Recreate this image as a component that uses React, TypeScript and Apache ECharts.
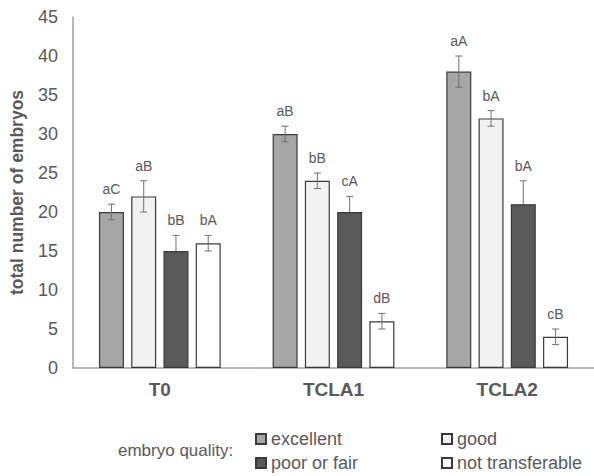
import React, { useEffect, useRef } from "react";
import * as echarts from "echarts";

const categories = ["T0", "TCLA1", "TCLA2"];
const seriesNames = ["excellent", "good", "poor or fair", "not transferable"];
const excellent = [20, 30, 38];
const good = [22, 24, 32];
const poorOrFair = [15, 20, 21];
const notTransferable = [16, 6, 4];
const excellentErr = [1, 1, 2];
const goodErr = [2, 1, 1];
const poorErr = [2, 2, 3];
const notTransferableErr = [1, 1, 1];
const excellentLetters = ["aC", "aB", "aA"];
const goodLetters = ["aB", "bB", "bA"];
const poorLetters = ["bB", "cA", "bA"];
const notTransferableLetters = ["bA", "dB", "cB"];
const yTicks = { min: 0, max: 45, interval: 5 };

const fills = ["#a6a6a6", "#f2f2f2", "#595959", "#ffffff"];
const TEXT = "#595959";
const FONT = "Liberation Sans, Arial, sans-serif";
const BAR_W = 25;
const BAR_GAP = 0.29;

export default function App() {
  const ref = useRef<HTMLDivElement>(null);
  useEffect(() => {
    if (!ref.current) return;
    const chart = echarts.init(ref.current, null, { renderer: "svg" });
    const values = [excellent, good, poorOrFair, notTransferable];
    const errs = [excellentErr, goodErr, poorErr, notTransferableErr];
    const letters = [excellentLetters, goodLetters, poorLetters, notTransferableLetters];
    const step = BAR_W * (1 + BAR_GAP);

    const barSeries = values.map((v, i) => ({
      name: seriesNames[i],
      type: "bar",
      data: v,
      barWidth: BAR_W,
      barGap: BAR_GAP * 100 + "%",
      itemStyle: { color: fills[i], borderColor: "#3a3a3a", borderWidth: 1.2 },
      z: 2,
    }));

    const errSeries = values.map((v, i) => ({
      type: "custom",
      z: 5,
      silent: true,
      data: v.map((val, c) => [c, val, errs[i][c]]),
      renderItem: (params: any, api: any) => {
        const c = api.value(0);
        const val = api.value(1);
        const e = api.value(2);
        const label = letters[i][params.dataIndex];
        const off = (i - 1.5) * step;
        const top = api.coord([c, val + e]);
        const mid = api.coord([c, val]);
        const bot = api.coord([c, val - e]);
        const x = top[0] + off;
        const cap = 3.5;
        const st = { stroke: "#707070", lineWidth: 1 };
        const dark = i === 2;
        const children: any[] = [
          { type: "line", shape: { x1: x, y1: top[1], x2: x, y2: dark ? mid[1] : bot[1] }, style: st },
          { type: "line", shape: { x1: x - cap, y1: top[1], x2: x + cap, y2: top[1] }, style: st },
        ];
        if (!dark) {
          children.push({ type: "line", shape: { x1: x - cap, y1: bot[1], x2: x + cap, y2: bot[1] }, style: st });
        }
        children.push({
          type: "text",
          x: x,
          y: top[1] - 15,
          style: {
            text: label,
            fill: TEXT,
            font: `14px ${FONT}`,
            align: "center",
            verticalAlign: "middle",
          },
        });
        return { type: "group", children };
      },
    }));

    const legendPos = [
      { left: 255, top: 430 },
      { left: 441, top: 430 },
      { left: 255, top: 454 },
      { left: 441, top: 454 },
    ];
    const legends = seriesNames.map((n, i) => ({
      left: legendPos[i].left,
      top: legendPos[i].top,
      padding: 0,
      itemWidth: 10,
      itemHeight: 10,
      icon: "rect",
      selectedMode: false,
      textStyle: { color: TEXT, fontSize: 18, fontFamily: FONT },
      data: [n],
    }));

    chart.setOption({
      animation: false,
      textStyle: { fontFamily: FONT },
      grid: { left: 66, top: 17, bottom: 108, right: -7.5, containLabel: false },
      xAxis: {
        type: "category",
        data: categories,
        axisTick: { show: false },
        axisLine: { lineStyle: { color: "#a0a0a0", width: 1.5 } },
        axisLabel: { color: TEXT, fontWeight: "bold", fontSize: 19, margin: 12, fontFamily: FONT },
      },
      yAxis: {
        type: "value",
        min: yTicks.min,
        max: yTicks.max,
        interval: yTicks.interval,
        splitLine: { show: false },
        axisTick: { show: false },
        axisLine: { show: true, lineStyle: { color: "#a0a0a0", width: 1.5 } },
        axisLabel: { color: TEXT, fontSize: 18, margin: 15, fontFamily: FONT },
        name: "total number of embryos",
        nameLocation: "middle",
        nameGap: 47,
        nameTextStyle: { color: TEXT, fontWeight: "bold", fontSize: 17.5, fontFamily: FONT },
      },
      legend: legends,
      graphic: [
        {
          type: "text",
          left: 118,
          top: 442,
          style: { text: "embryo quality:", fill: TEXT, font: `17px ${FONT}` },
        },
      ],
      series: [...barSeries, ...errSeries],
    });
    return () => chart.dispose();
  }, []);
  return (
    <div
      ref={ref}
      style={{ position: "fixed", left: 0, top: 0, width: 594, height: 476, background: "#fff" }}
    />
  );
}
